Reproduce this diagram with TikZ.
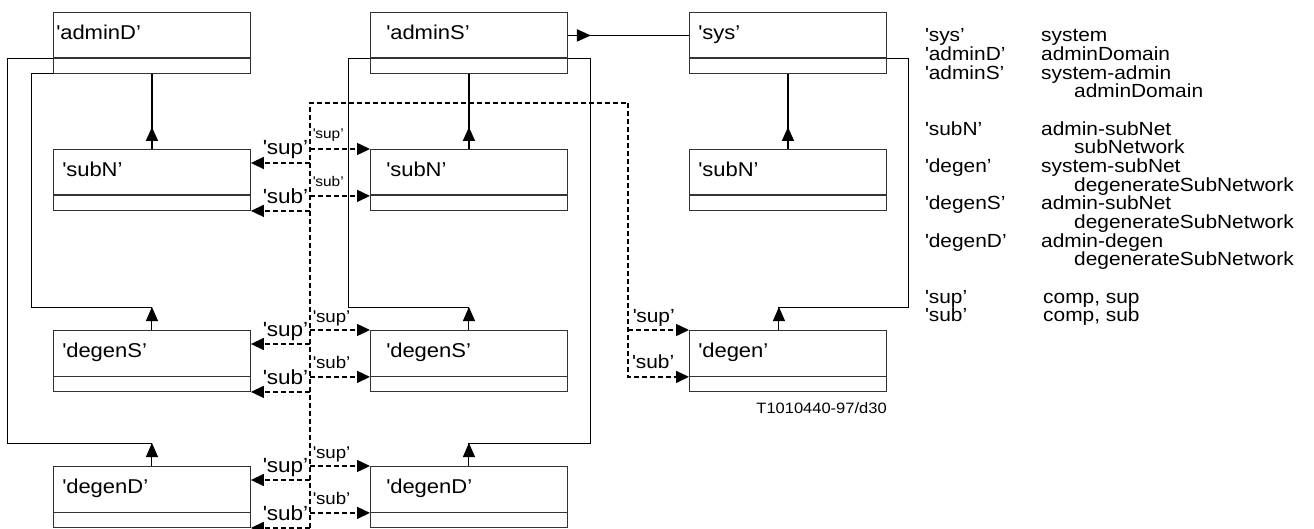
\documentclass[tikz,border=0pt]{standalone}
\usepackage{fontspec}
\setmainfont[FakeStretch=1.1]{Liberation Sans}
\usetikzlibrary{arrows.meta,positioning,calc,decorations.markings}

% straight opening quote, curly closing quote
\newcommand{\qt}[1]{\textquotesingle#1'}
% legend entry: key in a fixed column
\newcommand{\keyrow}[2]{\makebox[116pt][l]{#1}#2}

\begin{document}
\begin{tikzpicture}[
  x=1pt,y=-1pt,
  box/.style={draw=black!80, line width=0.9pt, anchor=north west, minimum width=197pt, minimum height=61pt,
    text width=179pt, inner xsep=9pt, inner ysep=0pt, text height=27pt, text depth=34pt, align=left,
    font=\fontsize{20}{20}\selectfont,
    path picture={\draw[line width=1.9pt] ([yshift=15pt]path picture bounding box.south west) -- ([yshift=15pt]path picture bounding box.south east);}},
  boxm/.style={box, inner xsep=16pt, text width=165pt},
  uparr/.style={line width=1.8pt, postaction={decorate},
    decoration={markings, mark=at position #1 with {\arrow{Triangle[length=14pt,width=12pt]}}}},
  uparr/.default=22pt,
  route/.style={line width=1pt, postaction={decorate},
    decoration={markings, mark=at position 23pt with {\arrow{Triangle[length=14pt,width=12pt]}}}},
  dsh/.style={line width=1.5pt, dash pattern=on 5pt off 3pt, -{Triangle[length=13pt,width=12pt]}},
  trunk/.style={line width=1.5pt, dash pattern=on 5pt off 3pt},
  labL/.style={font=\fontsize{20.5}{20.5}\selectfont, inner sep=0pt, anchor=base east, xshift=-1pt},
  labM/.style={font=\fontsize{17}{17}\selectfont, inner sep=0pt, anchor=base west, xshift=2pt},
  labS/.style={font=\fontsize{14}{14}\selectfont, inner sep=0pt, anchor=base west, xshift=2pt},
  labD/.style={font=\fontsize{19}{19}\selectfont, inner sep=0pt, anchor=base west, xshift=4pt, yshift=8pt}
]
\useasboundingbox (0,0) rectangle (1314,529);

% boxes
\node[box, inner xsep=3pt, text width=191pt] (aD) at (53,12) {\qt{adminD}};
\node[boxm] (aS) at (370,12) {\qt{adminS}};
\node[box] (sys) at (689,12) {\qt{sys}};
\node[box] (sN1) at (53,149) {\qt{subN}};
\node[boxm] (sN2) at (370,149) {\qt{subN}};
\node[box] (sN3) at (689,149) {\qt{subN}};
\node[box] (dS1) at (53,330) {\qt{degenS}};
\node[boxm] (dS2) at (370,330) {\qt{degenS}};
\node[box] (dg) at (689,330) {\qt{degen}};
\node[box] (dD1) at (53,466) {\qt{degenD}};
\node[boxm] (dD2) at (370,466) {\qt{degenD}};

% containment
\draw[uparr] (sN1.north) -- (aD.south);
\draw[uparr] (sN2.north) -- (aS.south);
\draw[uparr] (sN3.north) -- (sys.south);
\draw[uparr=23pt] ([yshift=7.5pt]aS.east) -- ([yshift=7.5pt]sys.west);
\draw[route] (dS1.north) -- ++(0,-23) -| ([xshift=-22pt]aD.south west) -- (aD.south west);
\draw[route] (dD1.north) -- ++(0,-23) -| ([xshift=-46pt,yshift=15pt]aD.south west) -- ([yshift=15pt]aD.south west);
\draw[route] (dS2.north) -- ++(0,-23) -| ([xshift=-22pt,yshift=15pt]aS.south west) -- ([yshift=15pt]aS.south west);
\draw[route] (dD2.north) -- ++(0,-23) -| ([xshift=23pt,yshift=15pt]aS.south east) -- ([yshift=15pt]aS.south east);
\draw[route] ([xshift=-9pt]dg.north) -- ++(0,-23) -| ([xshift=22pt,yshift=15pt]sys.south east) -- ([yshift=15pt]sys.south east);

% sup / sub links
\coordinate (tk) at (310,103);
\coordinate (tk2) at (628,103);
\draw[trunk] (tk |- dD1.south) -- (tk) -- (tk2);
\draw[dsh] (tk2) |- ([yshift=15pt]dg.south west);
\draw[dsh] (tk2 |- dg.north west) node[labD] {\qt{sup}} -- (dg.north west);
\path ($(tk2 |- dg.south west)+(0,15pt)$) node[labD] {\qt{sub}};

\draw[dsh] (tk |- sN2.north west) node[labS, yshift=10pt] {\qt{sup}} -- (sN2.north west);
\draw[dsh] ($(tk |- sN2.south west)+(0,15pt)$) node[labS, yshift=9pt] {\qt{sub}} -- ([yshift=15pt]sN2.south west);
\draw[dsh] ($(tk |- sN1.north east)+(0,-14pt)$) node[labL, yshift=8pt] {\qt{sup}} -- ($(sN1.north east)+(0,-14pt)$);
\draw[dsh] (tk |- sN1.south east) node[labL, yshift=7pt] {\qt{sub}} -- (sN1.south east);

\draw[dsh] (tk |- dS2.north west) node[labM, yshift=8pt] {\qt{sup}} -- (dS2.north west);
\draw[dsh] ($(tk |- dS2.south west)+(0,15pt)$) node[labM, yshift=8pt] {\qt{sub}} -- ([yshift=15pt]dS2.south west);
\draw[dsh] ($(tk |- dS1.north east)+(0,-14pt)$) node[labL, yshift=8pt] {\qt{sup}} -- ($(dS1.north east)+(0,-14pt)$);
\draw[dsh] (tk |- dS1.south east) node[labL, yshift=7pt] {\qt{sub}} -- (dS1.south east);

\draw[dsh] (tk |- dD2.north west) node[labM, yshift=8pt] {\qt{sup}} -- (dD2.north west);
\draw[dsh] ($(tk |- dD2.south west)+(0,15pt)$) node[labM, yshift=8pt] {\qt{sub}} -- ([yshift=15pt]dD2.south west);
\draw[dsh] ($(tk |- dD1.north east)+(0,-14pt)$) node[labL, yshift=8pt] {\qt{sup}} -- ($(dD1.north east)+(0,-14pt)$);
\draw[dsh] (tk |- dD1.south east) node[labL, yshift=7pt] {\qt{sub}} -- (dD1.south east);

\node[anchor=base east, inner sep=0pt, font=\fontsize{15}{15}\selectfont] (tag) at ([yshift=-22pt]dg.south east) {T1010440-97/d30};

% legend
\node[anchor=north west, inner sep=0pt, align=left, font=\fontsize{19}{18.67}\selectfont] (key) at (925,28.5) {%
  \keyrow{\qt{sys}}{system}\\
  \keyrow{\qt{adminD}}{adminDomain}\\
  \keyrow{\qt{adminS}}{system-admin}\\
  \keyrow{}{\hspace*{33pt}adminDomain}\\
  \mbox{}\\
  \keyrow{\qt{subN}}{admin-subNet}\\
  \keyrow{}{\hspace*{33pt}subNetwork}\\
  \keyrow{\qt{degen}}{system-subNet}\\
  \keyrow{}{\hspace*{33pt}degenerateSubNetwork}\\
  \keyrow{\qt{degenS}}{admin-subNet}\\
  \keyrow{}{\hspace*{33pt}degenerateSubNetwork}\\
  \keyrow{\qt{degenD}}{admin-degen}\\
  \keyrow{}{\hspace*{33pt}degenerateSubNetwork}\\
  \mbox{}\\
  \keyrow{\qt{sup}}{\hspace*{2pt}comp, sup}\\
  \keyrow{\qt{sub}}{\hspace*{2pt}comp, sub}};
\end{tikzpicture}
\end{document}
